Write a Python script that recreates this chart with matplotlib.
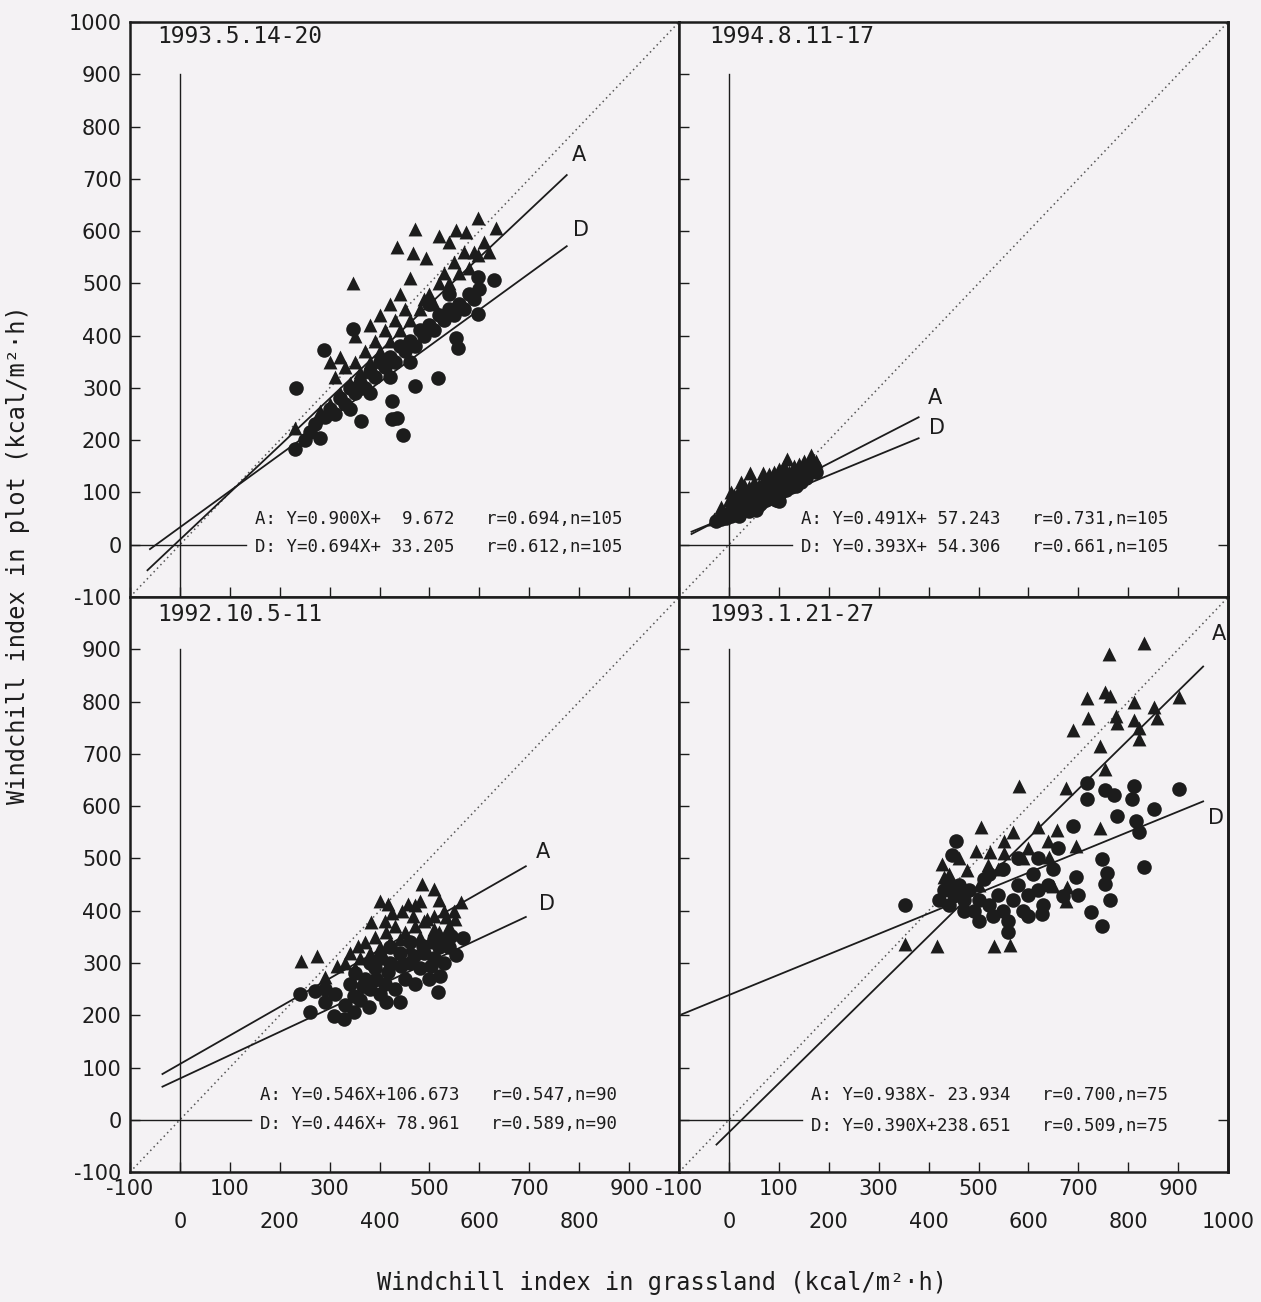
import matplotlib
matplotlib.use('Agg')
import matplotlib.pyplot as plt

# panels: top-left, top-right, bottom-left, bottom-right
periods = ['1993.5.14-20', '1994.8.11-17', '1992.10.5-11', '1993.1.21-27']

# regression results printed on each panel
slope_a = [0.900, 0.491, 0.546, 0.938]
icpt_a = [9.672, 57.243, 106.673, -23.934]
r_a = [0.694, 0.731, 0.547, 0.700]
slope_d = [0.694, 0.393, 0.446, 0.390]
icpt_d = [33.205, 54.306, 78.961, 238.651]
r_d = [0.612, 0.661, 0.589, 0.509]
n_obs = [105, 105, 90, 75]

# x span over which each fitted line is drawn
fit_a_x = [(-65, 775), (-75, 380), (-35, 693), (-25, 950)]
fit_d_x = [(-60, 775), (-75, 380), (-35, 693), (-95, 950)]

# 1993.5.14-20
tl_a_x = [231, 280, 300, 310, 320, 330, 340, 346, 350, 360, 370, 380, 390, 400, 410, 420, 430, 435,
          440, 450, 460, 466, 470, 480, 490, 493, 500, 510, 520, 530, 540, 550, 553, 560, 570, 573,
          580, 590, 598, 598, 610, 620, 633, 350, 380, 400, 420, 440, 460, 520, 540, 300, 320]
tl_a_y = [223, 256, 270, 320, 290, 340, 310, 500, 350, 330, 370, 350, 390, 370, 410, 390, 430, 569,
          410, 450, 430, 558, 604, 450, 470, 548, 480, 460, 500, 520, 500, 540, 602, 520, 560, 598,
          530, 560, 625, 554, 580, 560, 606, 400, 420, 440, 460, 480, 510, 590, 580, 350, 360]
tl_d_x = [231, 280, 233, 289, 346, 363, 425, 435, 447, 425, 470, 518, 553, 557, 598, 598, 629, 250,
          260, 270, 290, 300, 310, 320, 330, 340, 350, 360, 370, 380, 390, 400, 410, 420, 430, 440,
          450, 460, 470, 480, 490, 500, 510, 520, 530, 540, 550, 560, 570, 580, 590, 600, 340, 380,
          420, 460, 500, 540]
tl_d_y = [183, 204, 300, 373, 413, 237, 240, 242, 210, 275, 304, 319, 396, 377, 512, 442, 506, 200,
          215, 230, 245, 260, 250, 280, 270, 300, 290, 310, 300, 330, 320, 350, 340, 360, 350, 380,
          370, 390, 380, 410, 400, 420, 410, 440, 430, 450, 440, 460, 450, 480, 470, 490, 260, 290,
          320, 350, 460, 480]

# 1994.8.11-17
tr_a_x = [-30, -20, -10, -15, 0, 0, 5, 10, 10, 20, 20, 25, 30, 30, 40, 43, 50, 50, 60, 60, 68, 70,
          70, 80, 80, 90, 90, 90, 100, 100, 110, 110, 117, 120, 120, 130, 130, 140, 140, 150, 150,
          160, 165, 170, 175]
tr_a_y = [50, 55, 62, 72, 70, 85, 100, 80, 95, 90, 105, 120, 95, 115, 110, 137, 105, 120, 95, 115,
          137, 110, 125, 120, 135, 110, 125, 140, 130, 145, 135, 150, 163, 125, 140, 140, 150, 145,
          155, 150, 160, 150, 171, 155, 160]
tr_d_x = [-25, -15, -5, 0, 5, 10, 15, 20, 20, 25, 30, 35, 40, 40, 45, 50, 55, 60, 60, 65, 70, 75,
          80, 85, 90, 95, 100, 101, 105, 110, 115, 120, 125, 130, 134, 135, 140, 145, 150, 155, 160,
          170, 175]
tr_d_y = [45, 50, 52, 60, 55, 65, 60, 72, 55, 65, 78, 70, 85, 65, 72, 90, 67, 95, 75, 80, 100, 85,
          105, 90, 110, 85, 115, 83, 100, 120, 105, 125, 110, 130, 112, 115, 135, 120, 140, 128, 145,
          150, 140]

# 1992.10.5-11
bl_a_x = [243, 274, 291, 314, 357, 383, 400, 412, 417, 441, 456, 466, 480, 485, 495, 509, 509, 534,
          551, 563, 330, 340, 350, 360, 370, 380, 390, 400, 410, 420, 425, 430, 440, 445, 450, 460,
          470, 470, 480, 490, 500, 510, 520, 520, 530, 540, 550, 390, 410, 430]
bl_a_y = [304, 313, 273, 294, 333, 379, 419, 360, 413, 346, 412, 390, 419, 452, 385, 442, 365, 388,
          385, 417, 300, 320, 290, 310, 340, 320, 350, 330, 380, 340, 395, 370, 320, 400, 360, 330,
          370, 410, 350, 380, 340, 390, 360, 420, 400, 370, 400, 300, 310, 300]
bl_d_x = [241, 270, 260, 309, 328, 348, 291, 379, 412, 441, 517, 554, 567, 522, 503, 348, 367, 392,
          417, 443, 468, 487, 509, 534, 544, 340, 350, 360, 370, 380, 390, 400, 400, 410, 420, 430,
          440, 450, 460, 470, 480, 490, 500, 510, 520, 530, 540, 380, 420, 460, 330, 310, 290]
bl_d_y = [240, 246, 206, 198, 192, 206, 225, 215, 225, 225, 244, 315, 348, 275, 294, 237, 256, 269,
          283, 294, 313, 333, 346, 346, 352, 260, 280, 230, 270, 250, 290, 240, 310, 260, 300, 250,
          320, 270, 300, 260, 290, 320, 270, 310, 330, 300, 330, 300, 330, 340, 220, 240, 250]

# 1993.1.21-27
br_a_x = [831, 761, 717, 753, 763, 812, 852, 901, 720, 775, 777, 812, 821, 858, 689, 744, 821, 753,
          581, 676, 744, 505, 570, 658, 695, 431, 518, 552, 641, 649, 676, 353, 416, 532, 563, 427,
          495, 522, 551, 639, 678, 476, 440, 460, 540, 600, 620, 590, 470, 500]
br_a_y = [913, 892, 806, 819, 810, 800, 790, 808, 769, 773, 760, 765, 750, 769, 746, 715, 729, 671,
          638, 635, 558, 560, 550, 555, 523, 465, 488, 510, 502, 448, 419, 337, 333, 333, 335, 490,
          515, 513, 533, 533, 446, 477, 470, 500, 480, 520, 560, 500, 440, 450]
br_d_x = [901, 812, 717, 753, 771, 717, 808, 852, 777, 689, 815, 821, 748, 831, 695, 757, 753, 763,
          726, 748, 627, 670, 447, 454, 352, 420, 430, 440, 450, 460, 470, 480, 490, 500, 510, 520,
          530, 540, 550, 560, 570, 580, 590, 600, 610, 620, 630, 640, 650, 580, 550, 520, 600, 560,
          500, 470, 440, 620, 660, 700]
br_d_y = [633, 638, 644, 631, 621, 613, 613, 594, 581, 563, 571, 550, 498, 483, 465, 473, 452, 421,
          398, 371, 394, 429, 506, 533, 410, 420, 440, 410, 430, 450, 420, 440, 400, 420, 460, 410,
          390, 430, 400, 380, 420, 450, 400, 430, 470, 500, 410, 450, 480, 500, 480, 470, 390, 360,
          380, 400, 450, 440, 520, 430]

pts_a = [(tl_a_x, tl_a_y), (tr_a_x, tr_a_y), (bl_a_x, bl_a_y), (br_a_x, br_a_y)]
pts_d = [(tl_d_x, tl_d_y), (tr_d_x, tr_d_y), (bl_d_x, bl_d_y), (br_d_x, br_d_y)]

# layout bits (data coords of each panel)
eq_x = [150, 145, 160, 165]
eq_y = [(50, -5), (50, -5), (47, -8), (47, -12)]
lab_a = [(800, 746), (412, 281), (728, 513), (981, 929)]
lab_d = [(804, 602), (416, 223), (736, 413), (975, 577)]

INK = '#1c1c1c'
BG = '#f4f2f4'
MONO = 'DejaVu Sans Mono'


def eq_text(tag, m, b, r, n):
    sign = '+' if b >= 0 else '-'
    return '%s: Y=%.3fX%s%7.3f   r=%.3f,n=%d' % (tag, m, sign, abs(b), r, n)


def panel(ax, i):
    ax.set_facecolor(BG)
    ax.set_xlim(-100, 1000)
    ax.set_ylim(-100, 1000)
    # 1:1 line and the zero cross
    ax.plot([-100, 1000], [-100, 1000], ls=(0, (1, 2.2)), color='#555555', lw=1.1)
    ax.plot([0, 0], [-100, 900], color=INK, lw=1.0)
    ax.plot([-100, eq_x[i] - 18], [0, 0], color=INK, lw=1.0)

    ax.scatter(pts_d[i][0], pts_d[i][1], marker='o', s=110, color=INK, lw=0, zorder=3)
    ax.scatter(pts_a[i][0], pts_a[i][1], marker='^', s=100, color=INK, lw=0, zorder=3)

    for m, b, (x0, x1) in [(slope_a[i], icpt_a[i], fit_a_x[i]), (slope_d[i], icpt_d[i], fit_d_x[i])]:
        ax.plot([x0, x1], [m * x0 + b, m * x1 + b], color=INK, lw=1.3, zorder=4)

    ax.text(lab_a[i][0], lab_a[i][1], 'A', fontsize=15, ha='center', va='center', color=INK)
    ax.text(lab_d[i][0], lab_d[i][1], 'D', fontsize=15, ha='center', va='center', color=INK)

    ax.text(eq_x[i], eq_y[i][0], eq_text('A', slope_a[i], icpt_a[i], r_a[i], n_obs[i]),
            family=MONO, fontsize=12.5, va='center', ha='left', color=INK, zorder=5)
    ax.text(eq_x[i], eq_y[i][1], eq_text('D', slope_d[i], icpt_d[i], r_d[i], n_obs[i]),
            family=MONO, fontsize=12.5, va='center', ha='left', color=INK, zorder=5)

    ax.text(-45 if i % 2 == 0 else -40, 972 if i < 2 else 966, periods[i],
            family=MONO, fontsize=16.5, va='center', ha='left', color=INK)

    for s in ax.spines.values():
        s.set_linewidth(1.8)
        s.set_color(INK)

    # y ticks
    top = 1000 if i == 0 else 900
    yt = list(range(-100, top + 1, 100))
    ax.set_yticks(yt, [str(v) for v in yt])
    # x ticks: odd hundreds on first row, even hundreds below
    xmaj = list(range(-100, 901, 200))
    xmin = list(range(0, 1001 if i == 3 else 801, 200))
    ax.set_xticks(xmaj, [str(v) for v in xmaj])
    ax.set_xticks(xmin, [str(v) for v in xmin], minor=True)
    ax.tick_params(axis='both', which='both', direction='in', length=7, width=1.0,
                   color=INK, labelcolor=INK, labelsize=15)
    ax.tick_params(axis='x', which='major', pad=5)
    ax.tick_params(axis='x', which='minor', pad=29)
    ax.tick_params(axis='y', pad=6)
    if i < 2:
        ax.tick_params(axis='x', which='both', labelbottom=False)
    if i % 2 == 1:
        ax.tick_params(axis='y', labelleft=False)
        sec = ax.secondary_yaxis('right')
        sec.set_yticks([0])
        sec.tick_params(direction='in', length=7, width=1.0, labelright=False, color=INK)
        sec.spines['right'].set_linewidth(1.8)


fig = plt.figure(figsize=(12.61, 13.02), dpi=100, facecolor=BG)
w, h = 0.4354, 0.4416
boxes = [(0.1031, 0.5415), (0.5385, 0.5415), (0.1031, 0.0998), (0.5385, 0.0998)]
for i, (l, b) in enumerate(boxes):
    ax = fig.add_axes([l, b, w, h])
    panel(ax, i)

fig.text(0.014, 0.574, 'Windchill index in plot (kcal/m\u00b2\u00b7h)', rotation=90,
         family=MONO, fontsize=17, ha='center', va='center', color=INK)
fig.text(0.525, 0.0146, 'Windchill index in grassland (kcal/m\u00b2\u00b7h)',
         family=MONO, fontsize=17, ha='center', va='center', color=INK)

fig.savefig('out.png', dpi=100, facecolor=BG)
